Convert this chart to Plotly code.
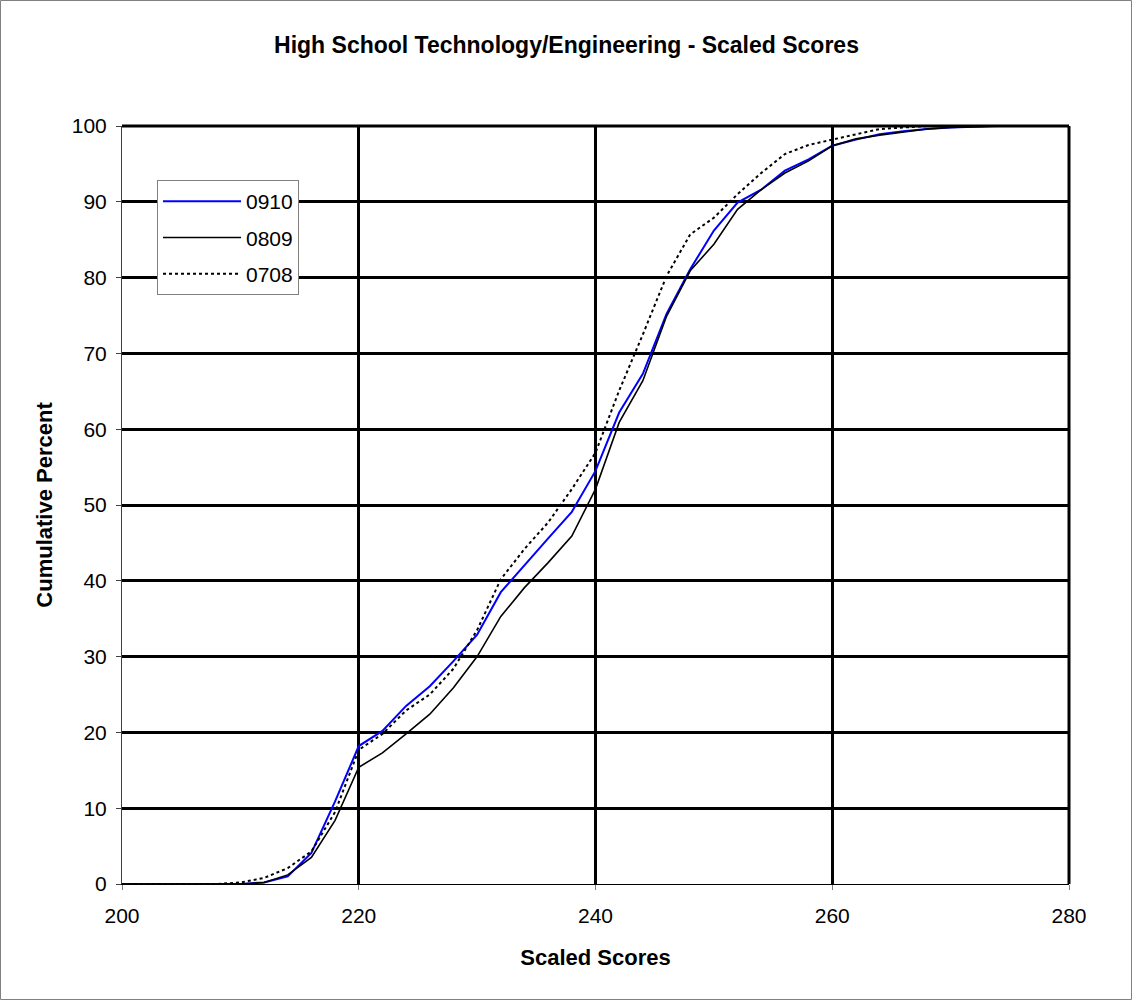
import plotly.graph_objects as go

scores = list(range(200, 276, 2))

s0910 = [0, 0, 0, 0, 0, 0, 0.2, 1.0, 4.1, 10.9, 18.2, 20.2, 23.5, 26.1, 29.4, 32.9,
         38.5, 42.1, 45.6, 49.1, 54.5, 62.2, 67.3, 75.2, 81.1, 86.2, 89.9, 91.6,
         94.1, 95.6, 97.4, 98.2, 98.9, 99.3, 99.6, 99.8, 99.9, 100]
s0809 = [0, 0, 0, 0, 0, 0, 0.2, 1.2, 3.5, 8.4, 15.4, 17.3, 19.8, 22.4, 25.9, 30.0,
         35.3, 39.1, 42.4, 45.9, 52.1, 60.9, 66.4, 74.9, 80.9, 84.4, 89.0, 91.6,
         93.8, 95.4, 97.4, 98.3, 98.8, 99.2, 99.6, 99.8, 99.9, 100]
s0708 = [0, 0, 0, 0, 0, 0.2, 0.8, 2.1, 4.3, 9.5, 17.7, 19.8, 22.9, 25.0, 28.4, 33.5,
         40.2, 44.2, 47.7, 52.1, 56.9, 65.1, 72.5, 80.2, 85.7, 87.9, 91.0, 93.8,
         96.3, 97.5, 98.2, 99.0, 99.6, 99.8, 100, 100, 100, 100]

series_names = ["0910", "0809", "0708"]

FONT = "Liberation Sans, Arial, sans-serif"
W, H = 1133, 1001
ML, MR, MT, MB = 122, 64, 126, 117

fig = go.Figure()
fig.add_trace(go.Scatter(x=scores, y=s0910, name=series_names[0], mode="lines",
                         line=dict(color="#0000ff", width=2), legendgroup="a"))
fig.add_trace(go.Scatter(x=scores, y=s0809, name=series_names[1], mode="lines",
                         line=dict(color="#000000", width=1.6), legendgroup="b"))
fig.add_trace(go.Scatter(x=scores, y=s0708, name=series_names[2], mode="lines",
                         line=dict(color="#000000", width=2, dash="dot"), legendgroup="c"))

pw = W - ML - MR
ph = H - MT - MB

fig.update_layout(
    width=W, height=H,
    margin=dict(l=ML, r=MR, t=MT, b=MB, pad=0),
    paper_bgcolor="white", plot_bgcolor="white",
    font=dict(family=FONT, size=21, color="black"),
    title=dict(text="<b>High School Technology/Engineering - Scaled Scores</b>",
               x=0.5, xanchor="center", y=1 - 45 / H, yanchor="middle",
               font=dict(family=FONT, size=23, color="black")),
    showlegend=True,
    legend=dict(x=(157 - ML) / pw, y=(MT + ph - 180) / ph, xanchor="left", yanchor="top",
                bgcolor="white", bordercolor="#808080", borderwidth=1,
                font=dict(family=FONT, size=21, color="black"),
                itemwidth=78, tracegroupgap=6, traceorder="grouped"),
    xaxis=dict(range=[200, 280], dtick=20, tick0=200, showgrid=True,
               gridcolor="black", gridwidth=3, showline=True, linecolor="black",
               linewidth=1, ticks="outside", ticklen=5, tickcolor="#808080",
               zeroline=False, ticklabelstandoff=8,
               title=dict(text="<b>Scaled Scores</b>", standoff=23,
                          font=dict(family=FONT, size=22))),
    yaxis=dict(range=[0, 100], dtick=10, tick0=0, showgrid=True,
               gridcolor="black", gridwidth=3, showline=True, linecolor="#404040",
               linewidth=1, ticks="outside", ticklen=5, tickcolor="#404040",
               zeroline=False, ticklabelstandoff=5,
               title=dict(text="<b>Cumulative Percent</b>", standoff=13,
                          font=dict(family=FONT, size=22))),
)

# plot-area frame: thick top and right edges (where the 100 / 280 grid lines sit)
fig.add_shape(type="line", xref="paper", yref="paper", x0=0, x1=1, y0=1, y1=1,
              line=dict(color="black", width=3))
fig.add_shape(type="line", xref="paper", yref="paper", x0=1, x1=1, y0=0, y1=1,
              line=dict(color="black", width=3))

# outer chart border
fig.add_shape(type="rect", xref="paper", yref="paper",
              x0=(-ML + 0.5) / pw, x1=(W - ML - 1.5) / pw,
              y0=(-MB + 1.5) / ph, y1=(ph + MT - 0.5) / ph,
              line=dict(color="#808080", width=1), fillcolor="rgba(0,0,0,0)", layer="below")

fig.write_html("out.html", post_script="document.body.style.margin='0';",
               config={"displayModeBar": False})
